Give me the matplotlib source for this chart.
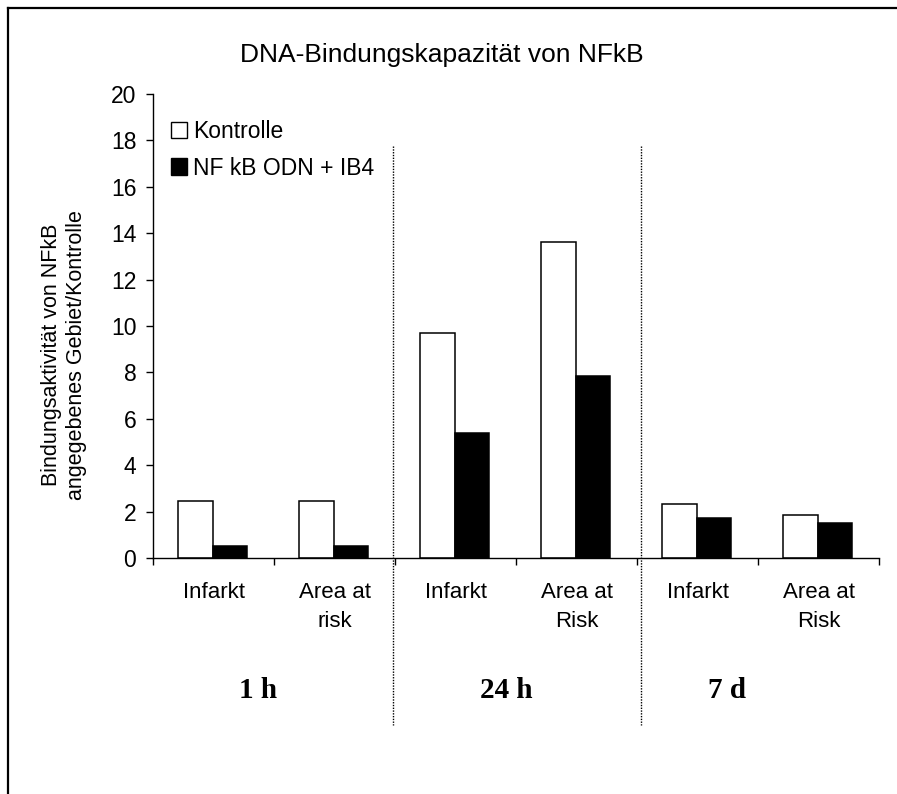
import matplotlib
matplotlib.use("Agg")
import matplotlib.pyplot as plt
import numpy as np
from matplotlib.lines import Line2D
from matplotlib.patches import Patch

plt.rcParams['font.family'] = ['Liberation Sans', 'DejaVu Sans']

# Werte je Gruppe (1 h / 24 h / 7 d, jeweils Infarkt und Area at risk)
kategorien = ["Infarkt", "Area at\nrisk", "Infarkt", "Area at\nRisk", "Infarkt", "Area at\nRisk"]
kontrolle = [2.45, 2.45, 9.7, 13.6, 2.33, 1.85]
nfkb_odn = [0.53, 0.53, 5.4, 7.85, 1.74, 1.5]
zeitpunkte = ["1 h", "24 h", "7 d"]
y_ticks = [0, 2, 4, 6, 8, 10, 12, 14, 16, 18, 20]

W, H = 897, 794
fig = plt.figure(figsize=(W / 100, H / 100), dpi=100, facecolor='white')
ax = fig.add_axes([153 / W, 1 - 558 / H, (879 - 153) / W, (558 - 94) / H])

x = np.arange(len(kategorien))
bw = 0.285
ax.bar(x - bw / 2 - 0.008, kontrolle, width=bw, color='white', edgecolor='black', linewidth=1.1)
ax.bar(x + bw / 2 - 0.008, nfkb_odn, width=bw, color='black', edgecolor='black', linewidth=1.1)

ax.set_xlim(-0.5, len(kategorien) - 0.5)
ax.set_ylim(0, 20)
ax.set_yticks(y_ticks)
ax.tick_params(axis='y', direction='out', length=5, width=1, labelsize=16.5, pad=7)

ax.set_xticks(x)
ax.set_xticklabels(kategorien, fontsize=16, linespacing=1.5)
ax.tick_params(axis='x', which='major', length=0, pad=17)
ax.set_xticks(np.arange(-0.5, len(kategorien)), minor=True)
ax.tick_params(axis='x', which='minor', direction='out', length=5, width=1)

for s in ['top', 'right']:
    ax.spines[s].set_visible(False)
for s in ['left', 'bottom']:
    ax.spines[s].set_linewidth(1)

# Legende
handles = [Patch(facecolor='white', edgecolor='black', linewidth=1),
           Patch(facecolor='black', edgecolor='black', linewidth=1)]
fig.legend(handles, ["Kontrolle", "NF kB ODN + IB4"], loc='upper left',
           bbox_to_anchor=(171 / W, 1 - 120 / H), frameon=False, fontsize=16.5,
           handlelength=0.7, handleheight=0.75, handletextpad=0.25,
           labelspacing=0.6, borderpad=0, borderaxespad=0)

# Trennlinien zwischen den Zeitpunkten
for xs in [393, 641]:
    fig.add_artist(Line2D([xs / W, xs / W], [1 - 146 / H, 1 - 725 / H],
                          color='black', linewidth=1, linestyle=(0, (1, 1))))

# Zeitpunkte
for label, xs in zip(zeitpunkte, [258, 506, 727]):
    fig.text(xs / W, 1 - 690 / H, label, ha='center', va='center',
             fontsize=21, fontweight='bold', family='Liberation Serif')

fig.text(442 / W, 1 - 55 / H, "DNA-Bindungskapazität von NFkB",
         ha='center', va='center', fontsize=19)
fig.text(64 / W, 1 - 355 / H, "Bindungsaktivität von NFkB\nangegebenes Gebiet/Kontrolle",
         ha='center', va='center', rotation=90, fontsize=15.5,
         multialignment='center', linespacing=1.3)

# Rahmen (oben und links)
fig.add_artist(Line2D([8 / W, 8 / W], [0, 1 - 8 / H], color='black', linewidth=1.6))
fig.add_artist(Line2D([8 / W, 1], [1 - 8 / H, 1 - 8 / H], color='black', linewidth=1.6))

fig.savefig("out.png", dpi=100, facecolor='white')
